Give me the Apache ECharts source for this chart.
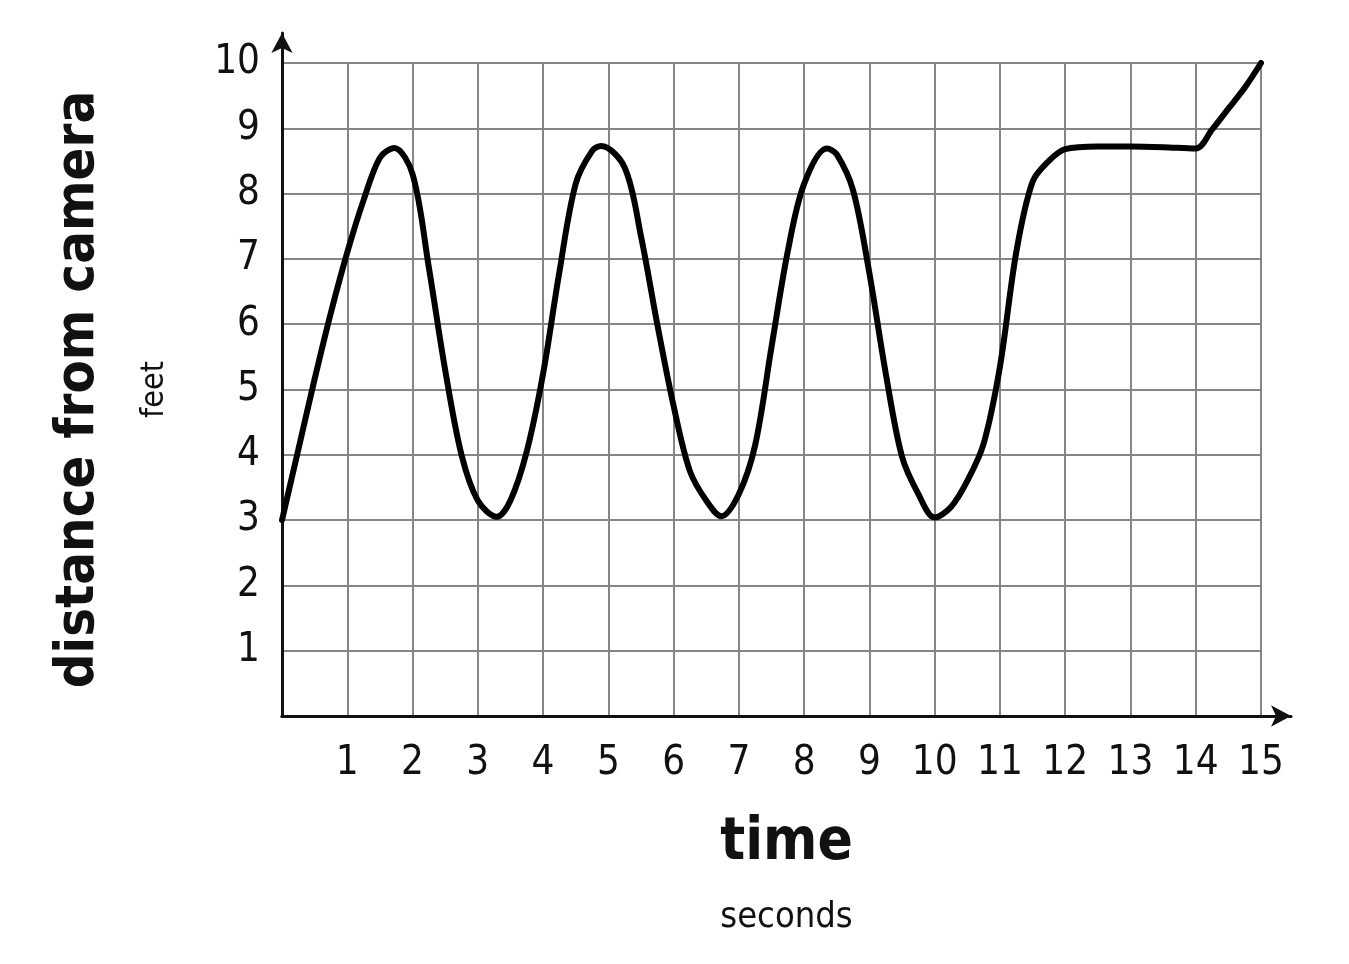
<!DOCTYPE html>
<html>
<head>
<meta charset="utf-8">
<script src="https://cdn.jsdelivr.net/npm/echarts@6/dist/echarts.min.js"></script>
<style>
html,body{margin:0;padding:0;background:#fff;}
#chart{width:1349px;height:964px;}
</style>
</head>
<body>
<div id="chart"></div>
<script>
// ---- data ----
const timeSec = [0, 0.25, 0.5, 0.75, 1, 1.25, 1.5, 1.72, 2, 2.25, 2.5, 2.75, 3, 3.29, 3.5, 3.75,
  4, 4.25, 4.5, 4.75, 4.89, 5.25, 5.5, 5.75, 6, 6.25, 6.5, 6.73, 7, 7.25, 7.5, 7.75,
  8, 8.35, 8.5, 8.75, 9, 9.25, 9.5, 9.75, 10, 10.25, 10.5, 10.75, 11, 11.25, 11.5, 11.75,
  12, 12.5, 13, 13.5, 14, 14.25, 14.5, 14.75, 15];
const distanceFt = [3, 4.08, 5.16, 6.18, 7.1, 7.9, 8.55, 8.7, 8.3, 6.87, 5.3, 4.0, 3.3, 3.05, 3.3, 4.05,
  5.24, 6.8, 8.15, 8.65, 8.73, 8.4, 7.35, 6.0, 4.75, 3.75, 3.3, 3.06, 3.4, 4.15, 5.65, 7.12,
  8.15, 8.69, 8.6, 8.05, 6.78, 5.25, 3.97, 3.4, 3.04, 3.2, 3.6, 4.17, 5.35, 7.1, 8.18, 8.5,
  8.68, 8.72, 8.72, 8.71, 8.69, 8.98, 9.3, 9.62, 10];
const xTicks = [1, 2, 3, 4, 5, 6, 7, 8, 9, 10, 11, 12, 13, 14, 15];
const yTicks = [1, 2, 3, 4, 5, 6, 7, 8, 9, 10];
const xTitle = 'time';
const xUnit = 'seconds';
const yTitle = 'distance from camera';
const yUnit = 'feet';

const FONT = "'DejaVu Sans Condensed', 'Liberation Sans Narrow', 'Roboto', sans-serif";
const points = timeSec.map((t, i) => [t, distanceFt[i]]);

const chart = echarts.init(document.getElementById('chart'), null, {renderer: 'canvas'});
chart.setOption({
  backgroundColor: '#ffffff',
  animation: false,
  grid: [
    {left: 282, right: 88, top: 63, bottom: 248, containLabel: false, outerBoundsMode: 'none'},
    {left: 282, right: 58, top: 33, bottom: 248, containLabel: false, outerBoundsMode: 'none'}
  ],
  xAxis: [
    {
      type: 'value', gridIndex: 0, min: 0, max: 15, interval: 1,
      axisLine: {show: true, lineStyle: {color: '#111', width: 3}},
      axisTick: {show: false},
      axisLabel: {
        margin: 28, color: '#111', fontFamily: FONT, fontSize: 40,
        formatter: v => (xTicks.indexOf(v) >= 0 ? String(v) : '')
      },
      splitLine: {show: true, lineStyle: {color: '#868686', width: 2}},
      name: '{a|' + xTitle + '}\n{b|' + xUnit + '}',
      nameLocation: 'middle', nameGap: 82,
      nameTextStyle: {
        padding: [0, 0, 0, 30],
        rich: {
          a: {fontFamily: FONT, fontSize: 58, fontWeight: 'bold', color: '#111', lineHeight: 92, align: 'center'},
          b: {fontFamily: FONT, fontSize: 36, color: '#111', lineHeight: 56, align: 'center'}
        }
      }
    },
    {
      type: 'value', gridIndex: 1, min: 0, max: 1,
      axisLine: {show: true, symbol: ['none', 'arrow'], symbolSize: [16, 20], lineStyle: {color: '#111', width: 3}},
      axisTick: {show: false}, axisLabel: {show: false}, splitLine: {show: false}
    }
  ],
  yAxis: [
    {
      type: 'value', gridIndex: 0, min: 0, max: 10, interval: 1,
      axisLine: {show: true, lineStyle: {color: '#111', width: 3}},
      axisTick: {show: false},
      axisLabel: {
        margin: 22, color: '#111', fontFamily: FONT, fontSize: 40,
        formatter: v => (yTicks.indexOf(v) >= 0 ? String(v) : '')
      },
      splitLine: {show: true, lineStyle: {color: '#868686', width: 2}},
      name: '{a|' + yTitle + '}\n{b|' + yUnit + '}',
      nameLocation: 'middle', nameGap: 109, nameRotate: 90,
      nameTextStyle: {
        rich: {
          a: {fontFamily: FONT, fontSize: 54, fontWeight: 'bold', color: '#111', lineHeight: 116, align: 'center'},
          b: {fontFamily: FONT, fontSize: 32, color: '#111', lineHeight: 36, align: 'center'}
        }
      }
    },
    {
      type: 'value', gridIndex: 1, min: 0, max: 1,
      axisLine: {show: true, symbol: ['none', 'arrow'], symbolSize: [16, 20], lineStyle: {color: '#111', width: 3}},
      axisTick: {show: false}, axisLabel: {show: false}, splitLine: {show: false}
    }
  ],
  series: [{
    type: 'line',
    xAxisIndex: 0, yAxisIndex: 0,
    data: points,
    smooth: 0.33,
    showSymbol: false,
    lineStyle: {color: '#000', width: 6, cap: 'round', join: 'round'},
    z: 5
  }]
});
</script>
</body>
</html>
